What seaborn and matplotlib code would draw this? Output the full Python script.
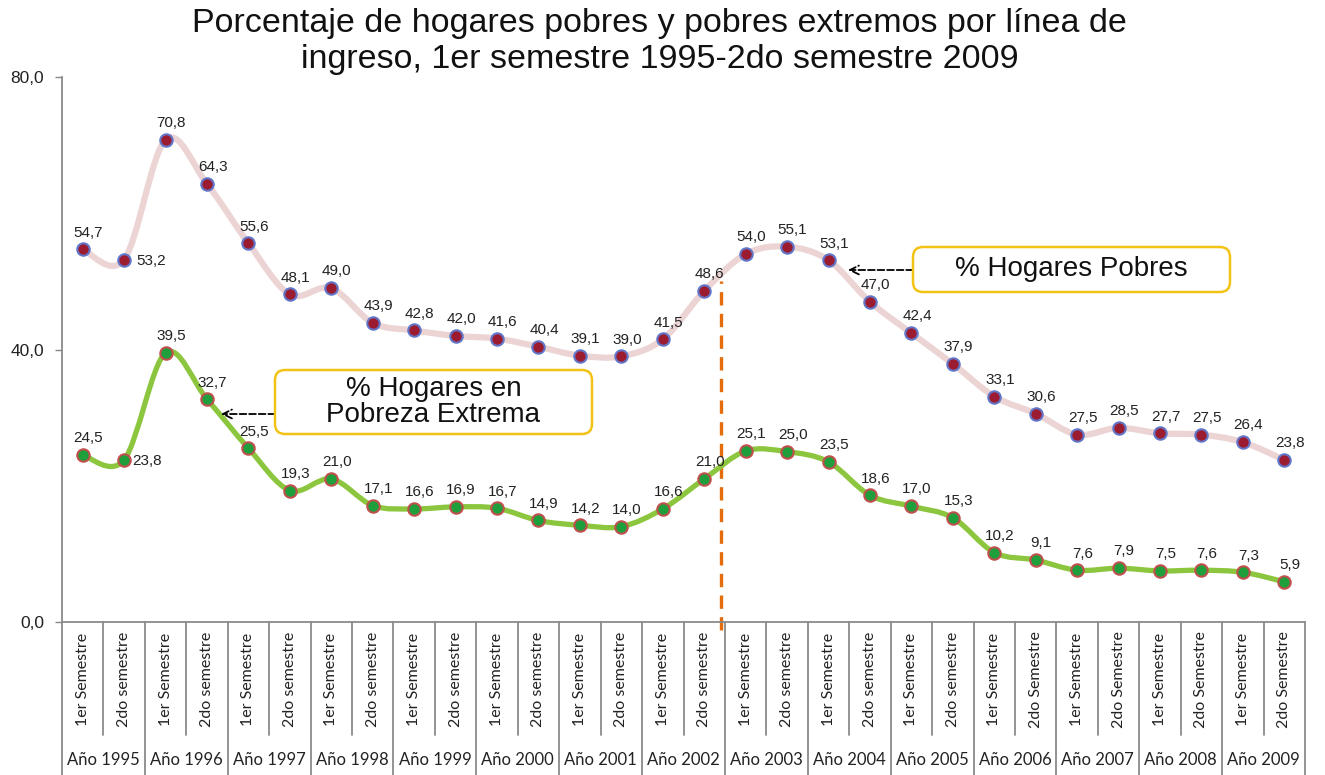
import matplotlib
matplotlib.use('Agg')
import matplotlib.pyplot as plt
import seaborn as sns
import pandas as pd
import numpy as np
from matplotlib.path import Path
from matplotlib.patches import PathPatch, FancyBboxPatch
from matplotlib.ticker import FuncFormatter

years = [f"Año {y}" for y in range(1995, 2010)]
semesters = (["1er Semestre", "2do semestre"] * 11) + (["1er Semestre", "2do Semestre"] * 4)

pobres = [54.7, 53.2, 70.8, 64.3, 55.6, 48.1, 49.0, 43.9, 42.8, 42.0,
          41.6, 40.4, 39.1, 39.0, 41.5, 48.6, 54.0, 55.1, 53.1, 47.0,
          42.4, 37.9, 33.1, 30.6, 27.5, 28.5, 27.7, 27.5, 26.4, 23.8]
extremos = [24.5, 23.8, 39.5, 32.7, 25.5, 19.3, 21.0, 17.1, 16.6, 16.9,
            16.7, 14.9, 14.2, 14.0, 16.6, 21.0, 25.1, 25.0, 23.5, 18.6,
            17.0, 15.3, 10.2, 9.1, 7.6, 7.9, 7.5, 7.6, 7.3, 5.9]

df = pd.DataFrame({"idx": np.arange(len(pobres)), "pobres": pobres, "extremos": extremos})

sns.set_theme(style="white")
plt.rcParams['font.family'] = ['Liberation Sans', 'DejaVu Sans']

fig = plt.figure(figsize=(13.25, 7.75), dpi=100)
ax = fig.add_axes([62 / 1325, 1 - 622 / 775, (1305 - 62) / 1325, (622 - 77) / 775])


def smooth_path(xs, ys):
    # cubic bezier through the points (like Excel smoothed lines)
    pts = np.column_stack([xs, ys]).astype(float)
    n = len(pts)
    verts = [pts[0]]
    codes = [Path.MOVETO]
    for i in range(n - 1):
        p0 = pts[max(i - 1, 0)]
        p1 = pts[i]
        p2 = pts[i + 1]
        p3 = pts[min(i + 2, n - 1)]
        c1 = p1 + (p2 - p0) / 6.0
        c2 = p2 - (p3 - p1) / 6.0
        verts += [c1, c2, p2]
        codes += [Path.CURVE4] * 3
    return Path(verts, codes)


ax.add_patch(PathPatch(smooth_path(df["idx"], df["pobres"]), fill=False,
                       edgecolor="#ecd4d4", lw=4.5, capstyle="round", zorder=2))
ax.add_patch(PathPatch(smooth_path(df["idx"], df["extremos"]), fill=False,
                       edgecolor="#8cc63e", lw=3.8, capstyle="round", zorder=2))

sns.scatterplot(data=df, x="idx", y="pobres", ax=ax, s=80, color="#9b1c31",
                edgecolor="#6276c8", linewidth=1.5, zorder=3, legend=False)
sns.scatterplot(data=df, x="idx", y="extremos", ax=ax, s=80, color="#1f9e3c",
                edgecolor="#c0504d", linewidth=1.5, zorder=3, legend=False)

# data labels
right_lbl = {1}
for i, v in enumerate(pobres):
    off = (9, -1) if i in right_lbl else (4, 7)
    ha = "left" if i in right_lbl else "center"
    va = "center" if i in right_lbl else "bottom"
    ax.annotate(f"{v:.1f}".replace(".", ","), (i, v), xytext=off, textcoords="offset points",
                ha=ha, va=va, fontsize=11, color="#222222")
for i, v in enumerate(extremos):
    off = (6, -1) if i in right_lbl else (4, 7)
    ha = "left" if i in right_lbl else "center"
    va = "center" if i in right_lbl else "bottom"
    ax.annotate(f"{v:.1f}".replace(".", ","), (i, v), xytext=off, textcoords="offset points",
                ha=ha, va=va, fontsize=11, color="#222222")

# orange split line
ax.plot([15.4, 15.4], [-1.2, 50.0], color="#e46c0a", lw=2.4, ls=(0, (4, 2.5)),
        clip_on=False, zorder=1)

ax.set_xlim(-0.5, len(pobres) - 0.5)
ax.set_ylim(0, 80)
ax.set_yticks([0, 40, 80])
ax.yaxis.set_major_formatter(FuncFormatter(lambda v, p: f"{v:.1f}".replace(".", ",")))
ax.tick_params(axis="y", labelsize=12.5, colors="#222222", length=5, width=1, left=True,
               color="#888888", pad=8)
ax.set_xticks([])
ax.set_xlabel("")
ax.set_ylabel("")
for s in ["top", "right"]:
    ax.spines[s].set_visible(False)
for s in ["left", "bottom"]:
    ax.spines[s].set_color("#8a8a8a")
    ax.spines[s].set_linewidth(1.3)

# multi-level category axis
trans = ax.get_xaxis_transform()
cat_font = ['Lato', 'DejaVu Sans']
ax.plot([len(pobres) - 0.5, len(pobres) - 0.5], [0, -0.3], transform=trans,
        color="#8a8a8a", lw=1.3, clip_on=False)
for i, lab in enumerate(semesters):
    ax.text(i, -0.105, lab, transform=trans, rotation=90, ha="center", va="center",
            fontsize=11.5, family=cat_font, color="#222222")
    if i % 2 == 1 and i < len(semesters) - 1:
        ax.plot([i + 0.5, i + 0.5], [0, -0.3], transform=trans, color="#8a8a8a",
                lw=1.3, clip_on=False)
    elif i % 2 == 0:
        ax.plot([i + 0.5, i + 0.5], [0, -0.208], transform=trans, color="#8a8a8a",
                lw=1.3, clip_on=False)
ax.plot([-0.5, -0.5], [0, -0.3], transform=trans, color="#8a8a8a", lw=1.3, clip_on=False)
for j, y in enumerate(years):
    ax.text(2 * j + 0.5, -0.254, y, transform=trans, ha="center", va="center",
            fontsize=12, family=cat_font, color="#222222")

# callout boxes
for (x0, y0, w, h, txt) in [(9.13, 4.83, 3.17, 0.45, "% Hogares Pobres"),
                            (2.75, 3.41, 3.17, 0.64, "% Hogares en\nPobreza Extrema")]:
    box = FancyBboxPatch((x0, y0), w, h, boxstyle="round,pad=0,rounding_size=0.1",
                         transform=fig.dpi_scale_trans, facecolor="white",
                         edgecolor="#f2c314", lw=1.8, zorder=5)
    fig.patches.append(box)
    fig.text((x0 + w / 2) / 13.25, (y0 + h / 2) / 7.75, txt, ha="center", va="center",
             fontsize=20, color="#111111", linespacing=1.0, zorder=6)

arrow_kw = dict(arrowstyle="->", color="black", lw=1.3, linestyle="--",
                mutation_scale=16, shrinkA=0, shrinkB=0)
ax.annotate("", xy=(848, 775 - 270), xytext=(913, 775 - 270), xycoords="figure pixels",
            textcoords="figure pixels", arrowprops=arrow_kw)
ax.annotate("", xy=(221, 775 - 414), xytext=(275, 775 - 414), xycoords="figure pixels",
            textcoords="figure pixels", arrowprops=arrow_kw)

fig.suptitle("Porcentaje de hogares pobres y pobres extremos por línea de\n"
             "ingreso, 1er semestre 1995-2do semestre 2009",
             x=0.498, y=0.99, fontsize=24.5, color="#111111", linespacing=1.2)

fig.savefig("out.png", dpi=100, facecolor="white")
plt.close(fig)
